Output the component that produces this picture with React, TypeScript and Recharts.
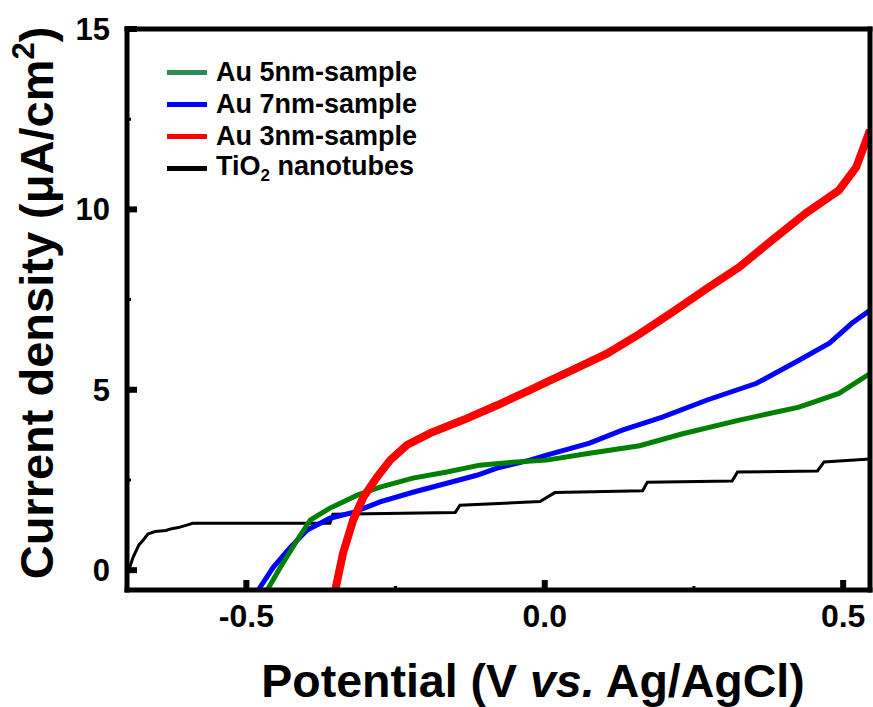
import React from "react";
import { LineChart, Line, XAxis, YAxis, ReferenceLine } from "recharts";

// ---- data (potential in V vs Ag/AgCl, current density in µA/cm²) ----
const POT_BLACK = [-0.697, -0.69, -0.68, -0.672, -0.665, -0.653, -0.635, -0.625, -0.614, -0.6, -0.59, -0.36, -0.355, -0.15, -0.142, -0.008, 0.017, 0.164, 0.172, 0.314, 0.323, 0.457, 0.468, 0.545];
const CUR_BLACK = [0.0, 0.35, 0.7, 0.85, 1.0, 1.07, 1.1, 1.15, 1.18, 1.25, 1.3, 1.3, 1.55, 1.6, 1.8, 1.9, 2.15, 2.2, 2.44, 2.47, 2.72, 2.75, 3.0, 3.08];

const POT_BLUE = [-0.48, -0.455, -0.426, -0.398, -0.36, -0.321, -0.276, -0.221, -0.164, -0.114, -0.08, -0.025, 0.003, 0.075, 0.13, 0.197, 0.271, 0.355, 0.426, 0.477, 0.515, 0.545];
const CUR_BLUE = [-0.55, 0.08, 0.64, 1.11, 1.44, 1.6, 1.89, 2.16, 2.41, 2.63, 2.83, 3.05, 3.19, 3.52, 3.88, 4.24, 4.71, 5.18, 5.82, 6.29, 6.85, 7.2];

const POT_GREEN = [-0.465, -0.443, -0.415, -0.393, -0.36, -0.314, -0.276, -0.221, -0.164, -0.109, -0.054, 0.003, 0.075, 0.159, 0.231, 0.326, 0.426, 0.493, 0.545];
const CUR_GREEN = [-0.55, 0.08, 0.83, 1.39, 1.72, 2.08, 2.3, 2.55, 2.72, 2.91, 2.99, 3.05, 3.24, 3.45, 3.78, 4.16, 4.52, 4.9, 5.45];

const POT_RED = [-0.351, -0.338, -0.321, -0.304, -0.281, -0.259, -0.231, -0.192, -0.137, -0.08, -0.025, 0.003, 0.047, 0.104, 0.159, 0.214, 0.271, 0.326, 0.381, 0.438, 0.493, 0.522, 0.545];
const CUR_RED = [-0.55, 0.47, 1.39, 2.02, 2.58, 3.05, 3.47, 3.8, 4.16, 4.57, 4.99, 5.21, 5.55, 6.0, 6.55, 7.15, 7.8, 8.4, 9.15, 9.9, 10.53, 11.17, 12.2];

const X_DOMAIN = [-0.7, 0.545];
const Y_DOMAIN = [-0.55, 15];
const X_TICKS = [-0.5, -0.25, 0, 0.25, 0.5];
const X_MAJOR_LABELS: Record<string, string> = { "-0.5": "-0.5", "0": "0.0", "0.5": "0.5" };
const Y_TICKS = [0, 2.5, 5, 7.5, 10, 12.5, 15];
const Y_MAJOR_LABELS: Record<string, string> = { "0": "0", "5": "5", "10": "10", "15": "15" };

const LEGEND_ITEMS = [
  { name: "Au 5nm-sample", color: "#2e8b57" },
  { name: "Au 7nm-sample", color: "#0000ff" },
  { name: "Au 3nm-sample", color: "#ff0000" },
  { name: "TiO2 nanotubes", color: "#000000" },
];

const zip = (xs: number[], ys: number[]) => xs.map((x, i) => ({ x, y: ys[i] }));
const blackData = zip(POT_BLACK, CUR_BLACK);
const blueData = zip(POT_BLUE, CUR_BLUE);
const greenData = zip(POT_GREEN, CUR_GREEN);
const redData = zip(POT_RED, CUR_RED);

const FONT = "'Liberation Sans', Arial, Helvetica, sans-serif";
const X_MARGIN = 14;
const Y_MARGIN = 17;

const XTick = (props: any) => {
  const { x, y, payload } = props;
  const label = X_MAJOR_LABELS[String(payload.value)];
  const axisY = y - X_MARGIN;
  const major = label !== undefined;
  const len = major ? 10 : 4;
  const w = major ? 6 : 3;
  return (
    <g>
      <rect x={x - w / 2} y={axisY - len} width={w} height={len + 2} fill="#000" stroke="none" />
      {major && (
        <text x={x} y={y} dy="0.71em" textAnchor="middle" fontFamily={FONT} fontWeight="bold" fontSize={32} fill="#000" stroke="none">
          {label}
        </text>
      )}
    </g>
  );
};

const YTick = (props: any) => {
  const { x, y, payload } = props;
  const label = Y_MAJOR_LABELS[String(payload.value)];
  const axisX = x + Y_MARGIN;
  const major = label !== undefined;
  const len = major ? 10 : 4;
  const w = major ? 6 : 3;
  return (
    <g>
      <rect x={axisX - 2} y={y - w / 2} width={len + 2} height={w} fill="#000" stroke="none" />
      {major && (
        <text x={x} y={y} dy="0.355em" textAnchor="end" fontFamily={FONT} fontWeight="bold" fontSize={31} fill="#000" stroke="none">
          {label}
        </text>
      )}
    </g>
  );
};

const YTitle = () => (
  <text transform="translate(53, 303) rotate(-90)" textAnchor="middle" fontFamily={FONT} fontWeight="bold" fontSize={47} fill="#000">
    Current density (μA/cm
    <tspan fontSize={31} dy={-19}>2</tspan>
    <tspan dy={19}>)</tspan>
  </text>
);

const XTitle = () => (
  <text x={533} y={697} textAnchor="middle" fontFamily={FONT} fontWeight="bold" fontSize={46.5} fill="#000">
    Potential (V <tspan fontStyle="italic">vs.</tspan> Ag/AgCl)
  </text>
);

const ChartLegend = () => (
  <div
    style={{
      position: "absolute",
      left: 167,
      top: 56,
      fontFamily: FONT,
      fontWeight: "bold",
      fontSize: 27,
      color: "#000",
    }}
  >
    {LEGEND_ITEMS.map((it) => (
      <div key={it.name} style={{ display: "flex", alignItems: "center", height: 32 }}>
        <div style={{ width: 40, height: 5, background: it.color, marginRight: 9 }} />
        <span style={{ lineHeight: "32px", whiteSpace: "nowrap" }}>
          {it.name.startsWith("TiO2") ? (
            <>
              TiO<span style={{ fontSize: 17, position: "relative", top: 6 }}>2</span> nanotubes
            </>
          ) : (
            it.name
          )}
        </span>
      </div>
    ))}
  </div>
);

const axisLineStyle = { stroke: "#000", strokeWidth: 5, strokeLinecap: "square" as const };

export default function App() {
  return (
    <div style={{ position: "absolute", left: 0, top: 0, width: 873, height: 707, background: "#fff" }}>
      <LineChart width={873} height={707} margin={{ top: 29, right: 3, left: 0, bottom: 0 }}>
        <XAxis
          dataKey="x"
          type="number"
          domain={X_DOMAIN}
          ticks={X_TICKS}
          allowDataOverflow
          height={117}
          tickSize={0}
          tickMargin={X_MARGIN}
          axisLine={axisLineStyle}
          tickLine={false}
          tick={<XTick />}
          interval={0}
        />
        <YAxis
          type="number"
          domain={Y_DOMAIN}
          ticks={Y_TICKS}
          allowDataOverflow
          width={127}
          tickSize={0}
          tickMargin={Y_MARGIN}
          axisLine={axisLineStyle}
          tickLine={false}
          tick={<YTick />}
          interval={0}
        />
        <Line data={blackData} dataKey="y" name="TiO2 nanotubes" stroke="#000000" strokeWidth={3} dot={false} isAnimationActive={false} type="linear" />
        <Line data={blueData} dataKey="y" name="Au 7nm-sample" stroke="#0000ff" strokeWidth={5} dot={false} isAnimationActive={false} type="linear" />
        <Line data={greenData} dataKey="y" name="Au 5nm-sample" stroke="#008000" strokeWidth={5} dot={false} isAnimationActive={false} type="linear" />
        <Line data={redData} dataKey="y" name="Au 3nm-sample" stroke="#ff0000" strokeWidth={8} dot={false} isAnimationActive={false} type="linear" />
        <ReferenceLine y={Y_DOMAIN[1]} stroke="#000" strokeWidth={5} strokeLinecap="square" />
        <ReferenceLine x={X_DOMAIN[1]} stroke="#000" strokeWidth={5} strokeLinecap="square" />
        <YTitle />
        <XTitle />
      </LineChart>
      <ChartLegend />
    </div>
  );
}
